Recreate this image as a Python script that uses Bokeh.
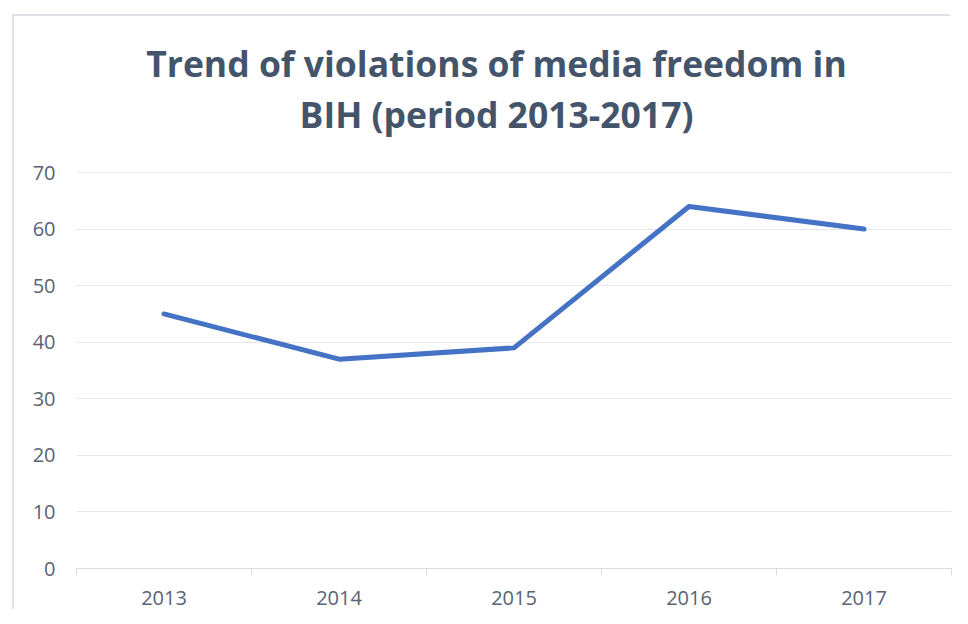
from bokeh.plotting import figure
from bokeh.models import Range1d, FixedTicker, Label, ColumnDataSource
from bokeh.embed import file_html
from bokeh.resources import INLINE

years = ["2013", "2014", "2015", "2016", "2017"]
violations = [45, 37, 39, 64, 60]
y_ticks = [0, 10, 20, 30, 40, 50, 60, 70]
title_lines = ["Trend of violations of media freedom in", "BIH (period 2013-2017)"]

FONT = "Open Sans"
TXT = "#586376"
GRID = "#E3E6EA"
AXIS = "#D9DDE3"

# layout (pixels)
W, H = 938, 595
ML, MR, MT, MB = 62, 1, 0, 43
AXIS_TOP_PX = 156            # distance from frame top to the 70 gridline
frame_h = H - MT - MB
y_end = y_ticks[-1] * frame_h / (frame_h - AXIS_TOP_PX)

xpos = [i + 0.5 for i in range(len(years))]
src = ColumnDataSource(dict(x=xpos, y=violations))

p = figure(width=W, height=H, output_backend="svg", toolbar_location=None,
           x_range=Range1d(0, len(years)), y_range=Range1d(0, y_end),
           min_border_left=ML, min_border_right=MR, min_border_top=MT, min_border_bottom=MB)
try:
    p.margin = (16, 0, 0, 14)
    p.styles = {"box-shadow": "-2px -2px 0 0 #DEE2E7"}
except Exception:
    p.styles = {"margin-left": "14px", "margin-top": "16px",
                "box-shadow": "-2px -2px 0 0 #DEE2E7"}
p.outline_line_color = None
p.background_fill_color = "white"
p.border_fill_color = "white"

p.line("x", "y", source=src, line_color="#4472C4", line_width=5,
       line_join="round", line_cap="round")

# x axis
p.xaxis.ticker = FixedTicker(ticks=xpos, minor_ticks=list(range(len(years) + 1)))
p.xaxis.major_label_overrides = {x: y for x, y in zip(xpos, years)}
p.xaxis.axis_line_color = AXIS
p.xaxis.major_tick_line_color = None
p.xaxis.major_tick_out = 0
p.xaxis.major_tick_in = 0
p.xaxis.minor_tick_line_color = AXIS
p.xaxis.minor_tick_out = 7
p.xaxis.minor_tick_in = 0
p.xaxis.major_label_standoff = 15
p.xaxis.major_label_text_font = FONT
p.xaxis.major_label_text_font_size = "20px"
p.xaxis.major_label_text_color = TXT

# y axis
p.yaxis.ticker = FixedTicker(ticks=y_ticks)
p.yaxis.axis_line_color = None
p.yaxis.major_tick_line_color = None
p.yaxis.minor_tick_line_color = None
p.yaxis.major_tick_out = 0
p.yaxis.major_tick_in = 0
p.yaxis.major_label_standoff = 21
p.yaxis.major_label_text_font = FONT
p.yaxis.major_label_text_font_size = "20px"
p.yaxis.major_label_text_color = TXT

p.xgrid.grid_line_color = None
p.ygrid.grid_line_color = GRID
p.ygrid.grid_line_width = 1

# title (screen units are relative to the frame, measured from its bottom-left)
for txt, yy in zip(title_lines, [506, 455]):
    p.add_layout(Label(x=420, y=yy, x_units="screen", y_units="screen", text=txt,
                       text_align="center", text_baseline="alphabetic",
                       text_font=FONT, text_font_style="bold", text_font_size="35.5px",
                       text_color="#44546A"))

open("out.html", "w").write(file_html(p, INLINE))
